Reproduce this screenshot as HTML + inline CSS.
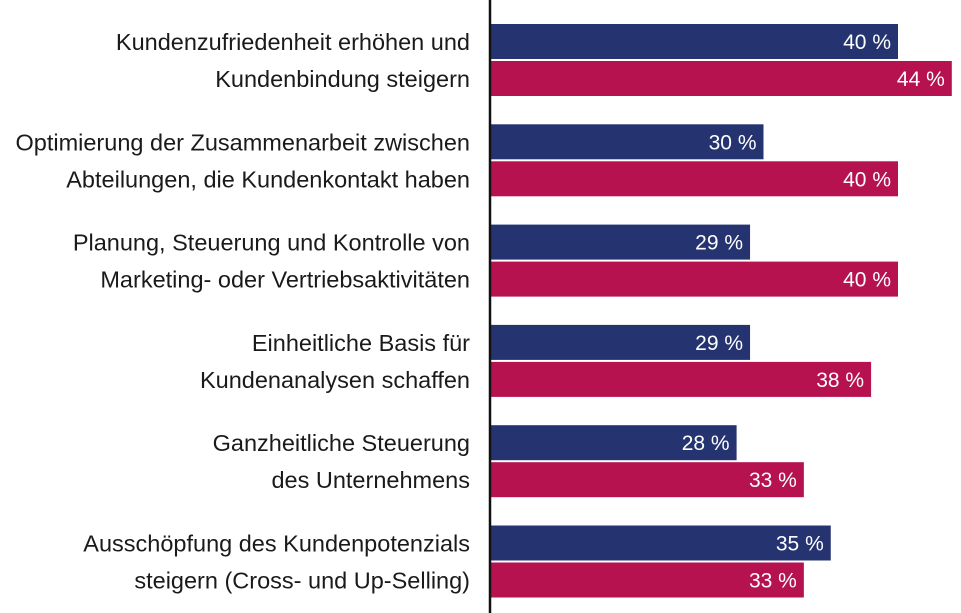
<!DOCTYPE html>
<html><head><meta charset="utf-8"><style>
body{margin:0;background:#fff;width:961px;height:613px;overflow:hidden}
svg{display:block;font-family:"Liberation Sans",sans-serif}
</style></head><body>
<svg id="chart" width="961" height="613" viewBox="0 0 961 613"></svg>
<script>
const categoriesLine1 = ["Kundenzufriedenheit erhöhen und","Optimierung der Zusammenarbeit zwischen","Planung, Steuerung und Kontrolle von","Einheitliche Basis für","Ganzheitliche Steuerung","Ausschöpfung des Kundenpotenzials"];
const categoriesLine2 = ["Kundenbindung steigern","Abteilungen, die Kundenkontakt haben","Marketing- oder Vertriebsaktivitäten","Kundenanalysen schaffen","des Unternehmens","steigern (Cross- und Up-Selling)"];
const seriesA = [40,30,29,29,28,35];
const seriesB = [44,40,40,38,33,33];
const svg=document.getElementById('chart');
const NS='http://www.w3.org/2000/svg';
const axisX=490;
function xScale(v){return 360+13.45*v;}
function yTop(i){return 24+100.3*i;}
function mk(tag,attrs){const e=document.createElementNS(NS,tag);for(const k in attrs)e.setAttribute(k,attrs[k]);svg.appendChild(e);return e;}
function bar(i,v,off,color,name){
  const y=yTop(i)+off, x2=xScale(v);
  const r=mk('rect',{x:axisX,y:y,width:x2-axisX,height:35,fill:color});
  
  
  const t=mk('text',{x:x2-7,y:y+25,fill:'#fff','font-size':21,'text-anchor':'end'});
  t.textContent=v+' %';
  
  
}
categoriesLine1.forEach((c,i)=>{
  bar(i,seriesA[i],0,'#253470','bar-a-'+i);
  bar(i,seriesB[i],37,'#b5124f','bar-b-'+i);
  const t1=mk('text',{x:470,y:yTop(i)+26,fill:'#1a1a1a','font-size':23.5,'text-anchor':'end'});
  t1.textContent=c;
  
  
  const t2=mk('text',{x:470,y:yTop(i)+63,fill:'#1a1a1a','font-size':23.5,'text-anchor':'end'});
  t2.textContent=categoriesLine2[i];
  
  
});
const ax=mk('line',{x1:axisX,y1:0,x2:axisX,y2:613,stroke:'#111','stroke-width':2.5});


</script>
</body></html>
